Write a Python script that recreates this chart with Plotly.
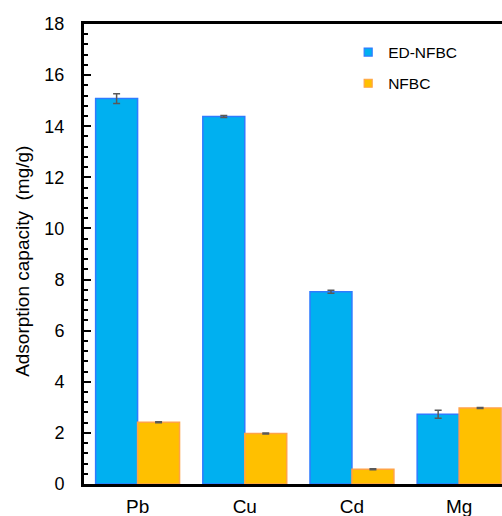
import plotly.graph_objects as go

# Adsorption capacity of each metal ion (mg/g)
metals = ["Pb", "Cu", "Cd", "Mg"]
ed_nfbc = [15.08, 14.38, 7.52, 2.73]
ed_nfbc_err = [0.19, 0.04, 0.06, 0.16]
nfbc = [2.42, 1.98, 0.58, 2.97]
nfbc_err = [0.02, 0.02, 0.02, 0.02]
y_ticks = [0, 2, 4, 6, 8, 10, 12, 14, 16, 18]

font_family = "Liberation Sans, Arial, sans-serif"
series = [
    ("ED-NFBC", ed_nfbc, ed_nfbc_err, "#00B0F0", "#2E7BFF"),
    ("NFBC", nfbc, nfbc_err, "#FFC000", "#FFA347"),
]

fig = go.Figure()
for i, (name, vals, errs, fill, edge) in enumerate(series):
    fig.add_trace(go.Bar(
        x=metals, y=vals, name=name, showlegend=False,
        marker=dict(color=fill, line=dict(color=edge, width=1.5)),
        error_y=dict(type="data", array=errs, color="#595959", thickness=1.5, width=3.5),
    ))
    # small square legend key
    fig.add_trace(go.Scatter(
        x=[None], y=[None], mode="markers", name=name, legendgroup=f"g{i}",
        marker=dict(symbol="square", size=8, color=fill, line=dict(color=edge, width=1.2)),
    ))

fig.update_layout(
    width=502, height=516,
    margin=dict(l=84, r=0, t=24, b=32),
    paper_bgcolor="white", plot_bgcolor="white",
    barmode="group", bargap=0.217, bargroupgap=0,
    font=dict(family=font_family, color="black", size=17),
    showlegend=True,
    legend=dict(
        x=0.632, y=0.975, xanchor="left", yanchor="top",
        bgcolor="rgba(0,0,0,0)", font=dict(size=15.5),
        traceorder="grouped", tracegroupgap=8,
    ),
)
fig.update_xaxes(
    type="category", range=[-0.5, 3.4], automargin=False,
    showline=True, linecolor="black", linewidth=3, mirror=True,
    ticks="", showgrid=False, zeroline=False,
    tickfont=dict(size=19), ticklabelstandoff=3,
)
fig.update_yaxes(
    range=[0, 18], tickvals=y_ticks, automargin=False,
    showline=True, linecolor="black", linewidth=3,
    ticks="inside", ticklen=7, tickwidth=2, tickcolor="black",
    minor=dict(dtick=0.4, ticks="inside", ticklen=4, tickwidth=2, tickcolor="black", showgrid=False),
    showgrid=False, zeroline=False,
    tickfont=dict(size=18), ticklabelstandoff=13,
)

fig.add_annotation(
    text="Adsorption capacity\u00a0\u00a0(mg/g)", textangle=-90,
    xref="paper", yref="paper", x=-0.146, y=0.485,
    xanchor="center", yanchor="middle", showarrow=False,
    font=dict(size=19),
)

fig.write_html("out.html")
